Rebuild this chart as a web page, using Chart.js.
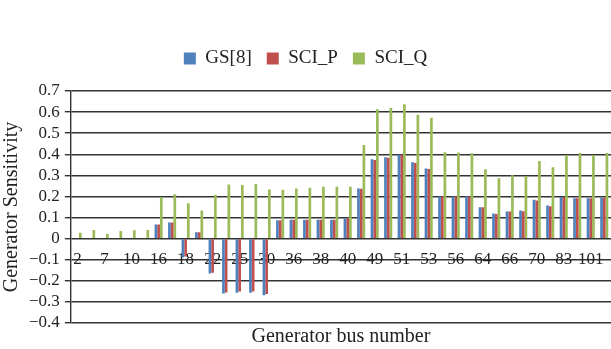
<!DOCTYPE html>
<html>
<head>
<meta charset="utf-8">
<script src="https://cdn.jsdelivr.net/npm/chart.js@4"></script>
<style>
  html, body { margin: 0; padding: 0; background: #fff; overflow: hidden; }
  #wrap { width: 611px; height: 349px; }
</style>
</head>
<body>
<div id="wrap"><canvas id="chart"></canvas></div>
<script>
// etiquetas visibles: una de cada dos barras (índices pares)
const tickLabels = ['2', '7', '10', '16', '18', '22', '25', '30', '36', '38',
    '40', '49', '51', '53', '56', '64', '66', '70', '83', '101'];

// valores, 40 grupos
const gsValues = [0, 0, 0, 0, 0, 0, 0.067, 0.076, -0.09, 0.03,
    -0.165, -0.26, -0.256, -0.257, -0.268, 0.087, 0.09, 0.09, 0.09, 0.09,
    0.097, 0.238, 0.376, 0.386, 0.398, 0.362, 0.333, 0.2, 0.2, 0.2,
    0.149, 0.119, 0.129, 0.133, 0.184, 0.157, 0.198, 0.192, 0.192, 0.194];
const sciPValues = [0, 0, 0, 0, 0, 0, 0.067, 0.076, -0.085, 0.03,
    -0.162, -0.255, -0.251, -0.251, -0.263, 0.087, 0.09, 0.09, 0.09, 0.09,
    0.095, 0.236, 0.373, 0.383, 0.398, 0.359, 0.33, 0.2, 0.2, 0.2,
    0.149, 0.117, 0.129, 0.13, 0.181, 0.154, 0.198, 0.192, 0.192, 0.194];
const sciQValues = [0.028, 0.041, 0.023, 0.036, 0.04, 0.041, 0.196, 0.211, 0.168, 0.133,
    0.208, 0.257, 0.254, 0.259, 0.233, 0.232, 0.238, 0.241, 0.246, 0.246,
    0.246, 0.444, 0.614, 0.619, 0.637, 0.587, 0.573, 0.41, 0.408, 0.405,
    0.329, 0.286, 0.3, 0.297, 0.368, 0.338, 0.397, 0.406, 0.397, 0.406];

const categories = gsValues.map((v, i) => (i % 2 === 0 ? tickLabels[i / 2] : ''));

const serif = '"Liberation Serif", "Times New Roman", serif';

function fmtTick(v) {
    if (Math.abs(v) < 1e-9) return '0';
    return (v < 0 ? '\u2212' : '') + Math.abs(v).toFixed(1);
}

// espacio extra debajo de la leyenda
const legendMargin = {
    id: 'legendMargin',
    beforeInit(chart) {
        const fit = chart.legend.fit;
        chart.legend.fit = function () {
            fit.bind(chart.legend)();
            this.height += 13;
        };
    }
};

new Chart(document.getElementById('chart'), {
    type: 'bar',
    data: {
        labels: categories,
        datasets: [
            { label: 'GS[8]', data: gsValues, backgroundColor: '#4F81BD' },
            { label: 'SCI_P', data: sciPValues, backgroundColor: '#C0504D' },
            { label: 'SCI_Q', data: sciQValues, backgroundColor: '#9BBB59' }
        ]
    },
    plugins: [legendMargin],
    options: {
        responsive: true,
        maintainAspectRatio: false,
        animation: false,
        datasets: {
            bar: { categoryPercentage: 0.6, barPercentage: 1.0 }
        },
        layout: { padding: { top: 34, left: 0, right: 0, bottom: 0 } },
        plugins: {
            legend: {
                position: 'top',
                labels: {
                    font: { family: serif, size: 19 },
                    color: '#222',
                    boxWidth: 12,
                    boxHeight: 12,
                    padding: 15
                }
            },
            title: {
                display: true,
                position: 'bottom',
                fullSize: false,
                text: 'Generator bus number',
                font: { family: serif, size: 20, weight: 'normal' },
                color: '#222',
                padding: { top: 2, bottom: 0 }
            },
            tooltip: { enabled: false }
        },
        scales: {
            x: {
                position: { y: 0 },
                grid: { display: false },
                border: { display: false },
                ticks: {
                    autoSkip: false,
                    maxRotation: 0,
                    padding: 3,
                    color: '#222',
                    font: { family: serif, size: 17 }
                }
            },
            y: {
                min: -0.4,
                max: 0.7,
                grid: { color: '#333', lineWidth: 1.4, tickLength: 6 },
                border: { color: '#333', width: 1.4 },
                ticks: {
                    stepSize: 0.1,
                    autoSkip: false,
                    padding: 5,
                    color: '#222',
                    font: { family: serif, size: 17 },
                    callback: fmtTick
                },
                title: {
                    display: true,
                    text: 'Generator Sensitivity',
                    font: { family: serif, size: 20 },
                    color: '#222',
                    padding: 0
                }
            }
        }
    }
});
</script>
</body>
</html>
